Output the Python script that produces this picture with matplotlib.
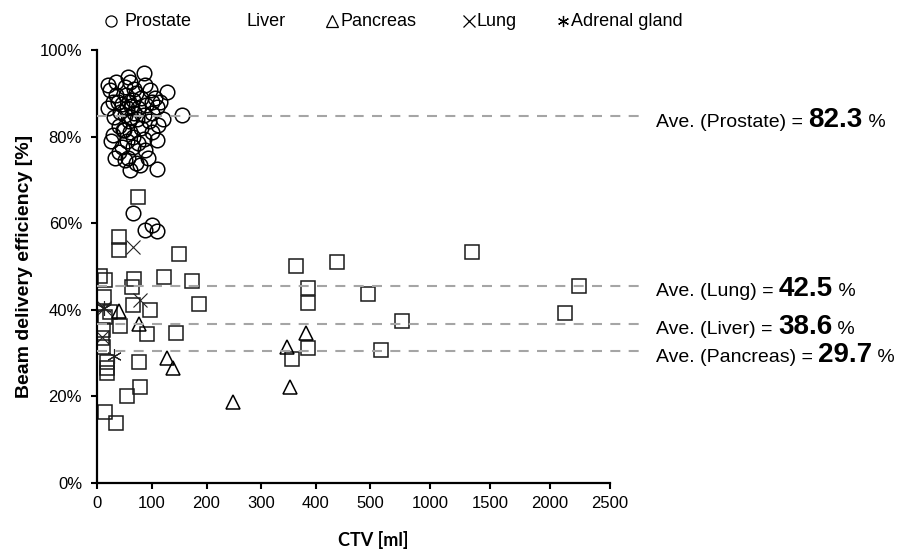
import numpy as np
import matplotlib
matplotlib.use("Agg")
import matplotlib.pyplot as plt
from matplotlib.transforms import IdentityTransform

plt.rcParams['font.family'] = ['Liberation Sans', 'DejaVu Sans']

# ---------------- data ----------------
prostate_ctv = [86, 56, 60, 128, 23, 96, 35, 50, 70, 29, 65, 100, 80, 45, 55, 62, 75, 90,
                109, 105, 41, 50, 68, 85, 155, 20, 30, 58, 72, 95, 111, 40, 48, 60, 80, 29,
                47, 65, 100, 109, 25, 55, 75, 45, 65, 88, 33, 56, 93, 78, 109, 60, 70, 50,
                40, 85, 120, 115, 100, 38, 52, 67, 88, 20, 35, 58, 62,
                65, 88, 100, 110]
prostate_eff = [94.7, 93.8, 92.5, 90.3, 90.8, 90.8, 89.5, 91.5, 90.0, 88.0, 88.5, 88.0, 89.0,
                87.5, 86.5, 87.0, 86.5, 87.3, 86.8, 88.8, 85.7, 85.0, 85.5, 85.0, 85.0, 86.5,
                84.5, 83.5, 84.0, 83.5, 82.7, 82.5, 81.5, 81.0, 82.0, 80.4, 81.5, 80.0, 81.0,
                79.2, 79.0, 79.0, 78.5, 77.6, 77.6, 77.0, 75.0, 75.0, 75.0, 73.4, 72.5, 72.3,
                74.0, 74.5, 76.5, 79.5, 84.0, 88.0, 85.5, 88.0, 89.5, 91.0, 92.0, 92.0, 92.5,
                88.0, 84.5,
                62.3, 58.5, 59.6, 58.2]

liver_ctv = [2243, 2127, 1352, 363, 438, 385, 385, 496, 768, 585, 356, 385,
             40, 40, 150, 5, 14, 68, 122, 173, 63, 12, 65, 96, 186, 23, 14, 41, 91, 145,
             10, 9, 10, 76, 18, 18, 18, 78, 54, 14, 34, 74]
liver_eff = [45.5, 39.3, 53.3, 50.1, 51.0, 45.0, 41.6, 43.6, 37.4, 30.7, 28.6, 31.2,
             56.8, 53.8, 52.9, 47.8, 46.9, 47.1, 47.6, 46.7, 45.3, 43.0, 41.1, 40.0, 41.3,
             39.5, 38.3, 36.3, 34.4, 34.6, 35.3, 33.5, 31.4, 27.9, 27.9, 26.6, 25.4, 22.2,
             20.1, 16.4, 13.9, 66.0]

pancreas_ctv = [383, 347, 352, 40, 76, 127, 138, 248]
pancreas_eff = [34.6, 31.4, 22.2, 39.7, 36.7, 28.9, 26.6, 18.7]

lung_ctv = [65, 78, 9, 12]
lung_eff = [54.5, 42.3, 33.7, 40.5]

adrenal_ctv = [12, 30]
adrenal_eff = [40.5, 29.4]

avg_names = ['Prostate', 'Lung', 'Liver', 'Pancreas']
avg_values = ['82.3', '42.5', '38.6', '29.7']
avg_line_levels = [84.7, 45.6, 36.8, 30.4]

legend_names = ['Prostate', 'Liver', 'Pancreas', 'Lung', 'Adrenal gland']

x_ticks = [0, 100, 200, 300, 400, 500, 1000, 1500, 2000, 2500]
y_ticks = [0, 20, 40, 60, 80, 100]

# ---------------- piecewise x scale ----------------
K = 60 / 54.7


def fwd(v):
    v = np.asarray(v, float)
    return np.where(v <= 500, v / 100.0, 5 + (v - 500) / 500.0 * K)


def inv(u):
    u = np.asarray(u, float)
    return np.where(u <= 5, u * 100.0, 500 + (u - 5) / K * 500.0)


W, H = 914, 553
fig = plt.figure(figsize=(W / 100, H / 100), dpi=100)
ax = fig.add_axes([97.3 / W, 70 / H, 512.7 / W, 433 / H])
ax.set_xscale('function', functions=(fwd, inv))
ax.set_xlim(0, 2500)
ax.set_ylim(0, 100)
ax.set_xticks(x_ticks)
ax.set_xticklabels([str(t) for t in x_ticks])
ax.set_yticks(y_ticks)
ax.set_yticklabels([f'{t}%' for t in y_ticks])
ax.minorticks_off()

for s in ['top', 'right']:
    ax.spines[s].set_visible(False)
for s in ['left', 'bottom']:
    ax.spines[s].set_linewidth(1.6)
    ax.spines[s].set_color('black')
ax.tick_params(axis='both', direction='out', length=4, width=1.5, labelsize=12, colors='black')
ax.tick_params(axis='y', pad=7)
ax.tick_params(axis='x', pad=5)

ms = 10.5
mew = 1.1
ax.plot(prostate_ctv, prostate_eff, ls='none', marker='o', ms=ms, mfc='none', mec='black', mew=mew, zorder=2)
ax.plot(liver_ctv, liver_eff, ls='none', marker='s', ms=ms - 0.5, mfc='none', mec='#1a1a1a', mew=mew, zorder=2)
ax.plot(pancreas_ctv, pancreas_eff, ls='none', marker='^', ms=ms, mfc='none', mec='black', mew=mew, zorder=2)
ax.plot(lung_ctv, lung_eff, ls='none', marker='x', ms=ms, mec='#222222', mew=0.8, zorder=2)
ax.plot(adrenal_ctv, adrenal_eff, ls='none', marker=(6, 2, 0), ms=ms, mec='#222222', mew=0.8, zorder=2)

# average dashed lines
ytr = ax.get_yaxis_transform()
for lvl in avg_line_levels:
    ax.plot([0, 1.072], [lvl, lvl], transform=ytr, color='#a5a5a5', lw=1.5,
            dashes=(4.8, 4.0), clip_on=False, zorder=3)

# axis titles
fig.text(25 / W, 1 - 266 / H, 'Beam delivery efficiency [%]', rotation=90, ha='center', va='center',
         fontsize=14, fontweight='bold')
fig.text(373 / W, 1 - 540 / H, 'CTV [ml]', ha='center', va='center', fontsize=13,
         fontweight='bold', family=['Lato', 'DejaVu Sans'])

# legend (manual, top row)
legend_markers = [dict(marker='o'), None, dict(marker='^'), dict(marker='x'), dict(marker=(6, 2, 0))]
legend_mx = [111, 236, 332, 469, 563]
legend_tx = [124, 246, 341, 477, 571]
ly = 1 - 21 / H
for name, mk, mx, tx in zip(legend_names, legend_markers, legend_mx, legend_tx):
    if mk is not None:
        fig.add_artist(plt.Line2D([mx / W], [ly], transform=fig.transFigure, ls='none',
                                  mfc='none', mec='black', ms=8, mew=0.9, **mk))
    fig.text(tx / W, ly, name, ha='left', va='center', fontsize=13)

# average labels (three pieces on one baseline)
fig.canvas.draw()
renderer = fig.canvas.get_renderer()
for name, val, lvl in zip(avg_names, avg_values, avg_line_levels):
    ydisp = ytr.transform((0, lvl))[1]
    base = ydisp - 10.5
    t1 = fig.text(656, base, f'Ave. ({name}) = ', transform=IdentityTransform(),
                  ha='left', va='baseline', fontsize=14)
    x1 = t1.get_window_extent(renderer).x1
    t2 = fig.text(x1, base, val, transform=IdentityTransform(), ha='left', va='baseline',
                  fontsize=20, fontweight='bold')
    x2 = t2.get_window_extent(renderer).x1
    fig.text(x2, base, ' %', transform=IdentityTransform(), ha='left', va='baseline', fontsize=14)

fig.savefig('out.png', dpi=100)
